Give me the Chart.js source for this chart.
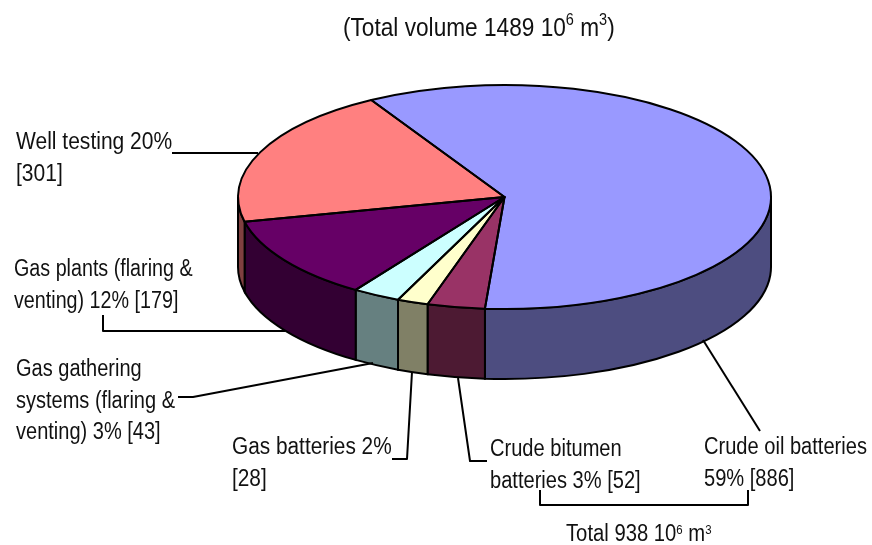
<!DOCTYPE html>
<html>
<head>
<meta charset="utf-8">
<title>Total volume pie</title>
<script src="https://cdn.jsdelivr.net/npm/chart.js@4"></script>
<style>
  html, body { margin: 0; padding: 0; background: #fff; }
  #wrap { position: relative; width: 872px; height: 545px; overflow: hidden; }
  #pie { position: absolute; left: 0; top: 0; }
  .lbl {
    position: absolute; white-space: nowrap; color: #111;
    font-family: "Liberation Sans", Arial, sans-serif;
    font-size: 23px; line-height: 31.5px;
    transform-origin: 0 0;
  }
  .lbl sup { font-size: 13px; line-height: 0; vertical-align: baseline; position: relative; top: -7px; }
  .lbl.head sup { font-size: 16px; top: -11px; }
</style>
</head>
<body>
<div id="wrap">
  <canvas id="pie" width="872" height="545"></canvas>
  <div class="lbl head" style="left:343px;top:12px;font-size:25px;transform:scaleX(0.906)">(Total volume 1489 10<sup>6</sup> m<sup>3</sup>)</div>
  <div class="lbl" style="left:16px;top:126px;transform:scaleX(0.914)">Well testing 20%<br>[301]</div>
  <div class="lbl" style="left:14px;top:253px;transform:scaleX(0.857)">Gas plants (flaring &amp;<br>venting) 12% [179]</div>
  <div class="lbl" style="left:16px;top:353px;transform:scaleX(0.87)">Gas gathering<br>systems (flaring &amp;<br>venting) 3% [43]</div>
  <div class="lbl" style="left:232px;top:431px;transform:scaleX(0.905)">Gas batteries 2%<br>[28]</div>
  <div class="lbl" style="left:490px;top:433px;transform:scaleX(0.873)">Crude bitumen<br>batteries 3% [52]</div>
  <div class="lbl" style="left:704px;top:431px;transform:scaleX(0.873)">Crude oil batteries<br>59% [886]</div>
  <div class="lbl" style="left:566px;top:518px;transform:scaleX(0.88)">Total 938 10<sup>6</sup> m<sup>3</sup></div>
</div>
<script>
// Slices in drawing order, clockwise from the line at the back
const sliceNames = ['Crude oil batteries', 'Crude bitumen batteries', 'Gas batteries', 'Gas gathering systems', 'Gas plants', 'Well testing'];
const sliceVolumes = [886, 52, 28, 43, 179, 301];
const sliceColors = ['#9999FF', '#993366', '#FFFFCC', '#CCFFFF', '#660066', '#FF8080'];
const sideColors = ['#4D4D80', '#4D1A33', '#808066', '#668080', '#330033', '#804040'];

// Leader lines from the labels to the pie, and the bracket under the two battery labels
const leaderLines = [
  [[172, 153], [258, 153]],
  [[103, 315], [103, 331], [285, 331]],
  [[178, 397], [193, 397], [373, 363]],
  [[392, 459], [407, 459], [412, 372]],
  [[487, 461], [470, 461], [458, 378]],
  [[703, 340], [760, 431]],
  [[540, 490], [540, 505], [748, 505], [748, 490]]
];

// Ellipse centre and squash of the tilted pie
const PIE_CY = 197;
const PIE_RY = 112;
const PIE_DEPTH = 70;

const tiltPlugin = {
  id: 'tilt',
  beforeDatasetsDraw(chart) {
    const ctx = chart.ctx;
    const arcs = chart.getDatasetMeta(0).data;
    const rx = arcs[0].outerRadius;
    const cx = arcs[0].x;

    // Outer wall, only the part facing the viewer
    ctx.save();
    ctx.strokeStyle = '#000';
    ctx.lineWidth = 2;
    arcs.forEach((arc, i) => {
      [-2 * Math.PI, 0, 2 * Math.PI].forEach(k => {
        const a = Math.max(arc.startAngle, k);
        const b = Math.min(arc.endAngle, k + Math.PI);
        if (b <= a) return;
        ctx.beginPath();
        ctx.ellipse(cx, PIE_CY, rx, PIE_RY, 0, a, b);
        ctx.ellipse(cx, PIE_CY + PIE_DEPTH, rx, PIE_RY, 0, b, a, true);
        ctx.closePath();
        ctx.fillStyle = sideColors[i];
        ctx.fill();
        ctx.stroke();
      });
    });
    ctx.restore();

    // Library draws the arcs, squashed into the ellipse
    ctx.save();
    ctx.translate(0, PIE_CY);
    ctx.scale(1, PIE_RY / rx);
    ctx.translate(0, -arcs[0].y);
  },
  afterDatasetsDraw(chart) {
    const ctx = chart.ctx;
    ctx.restore();
    const arcs = chart.getDatasetMeta(0).data;
    ctx.save();
    ctx.strokeStyle = '#000';
    ctx.lineWidth = 2;
    ctx.lineJoin = 'round';
    arcs.forEach(arc => {
      ctx.beginPath();
      ctx.moveTo(arc.x, PIE_CY);
      ctx.ellipse(arc.x, PIE_CY, arc.outerRadius, PIE_RY, 0, arc.startAngle, arc.endAngle);
      ctx.closePath();
      ctx.stroke();
    });
    leaderLines.forEach(line => {
      ctx.beginPath();
      line.forEach((p, i) => (i ? ctx.lineTo(p[0], p[1]) : ctx.moveTo(p[0], p[1])));
      ctx.stroke();
    });
    ctx.restore();
  }
};

new Chart(document.getElementById('pie').getContext('2d'), {
  type: 'pie',
  data: {
    labels: sliceNames,
    datasets: [{
      data: sliceVolumes,
      backgroundColor: sliceColors,
      borderWidth: 0
    }]
  },
  options: {
    responsive: false,
    animation: false,
    rotation: -30,
    layout: { padding: { left: 238, right: 101, top: 0, bottom: 12 } },
    plugins: {
      legend: { display: false },
      tooltip: { enabled: false }
    }
  },
  plugins: [tiltPlugin]
});
</script>
</body>
</html>
